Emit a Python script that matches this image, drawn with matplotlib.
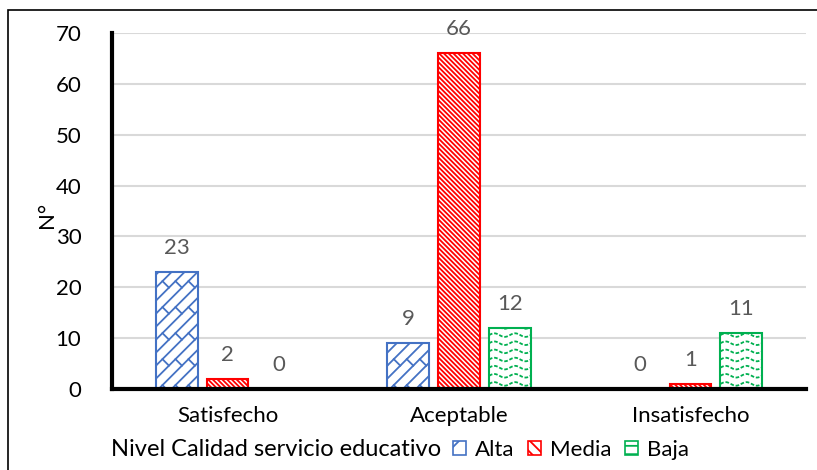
import numpy as np
import matplotlib
matplotlib.use("Agg")
import matplotlib.pyplot as plt
from matplotlib.patches import Rectangle, Patch
from matplotlib.transforms import IdentityTransform

# Data
categories = ["Satisfecho", "Aceptable", "Insatisfecho"]
series_names = ["Alta", "Media", "Baja"]
alta = [23, 9, 0]
media = [2, 66, 1]
baja = [0, 12, 11]
y_ticks = [0, 10, 20, 30, 40, 50, 60, 70]
legend_title = "Nivel Calidad servicio educativo"
y_label = "N°"

plt.rcParams["font.family"] = ["Lato", "DejaVu Sans"]
plt.rcParams["hatch.linewidth"] = 1.3

colors = ["#4472C4", "#FF0000", "#00B050"]

fig = plt.figure(figsize=(8.17, 4.70), dpi=100)
ax = fig.add_axes([112 / 817, 1 - 389 / 470, 694 / 817, 356 / 470])
ax.set_xlim(-0.5, 2.5)
ax.set_ylim(0, 70)

x = np.arange(len(categories))
width = 0.18
step = 0.22
all_series = [alta, media, baja]
hatches = [None, "\\" * 7, None]

bar_groups = []
for i, (vals, col, h) in enumerate(zip(all_series, colors, hatches)):
    bars = ax.bar(x + (i - 1) * step, vals, width, facecolor="white",
                  edgecolor=col, linewidth=1.5, hatch=h, zorder=3)
    bar_groups.append(bars)
    for b, v in zip(bars, vals):
        ax.annotate(str(v), (b.get_x() + b.get_width() / 2, v),
                    xytext=(0, 10), textcoords="offset points",
                    ha="center", va="bottom", fontsize=16, color="#595959")

# Diagonal brick fill for the "Alta" bars (drawn in pixel space, clipped to bar)
px = IdentityTransform()
for b in bar_groups[0]:
    if b.get_height() <= 0:
        continue
    (x0, y0), (x1, y1) = ax.transData.transform(
        [(b.get_x(), 0), (b.get_x() + b.get_width(), b.get_height())])
    s = 13.0
    cs = np.arange(y0 - x1 - s, y1 - x0 + s, s)
    for k, c in enumerate(cs):
        t = np.array([x0 - 20, x1 + 20])
        ln, = ax.plot(t, t + c, color=colors[0], lw=1.3, transform=px, zorder=4)
        ln.set_clip_path(b)
        off = (k % 2) * s
        for tt in np.arange(x0 - 4 * s + off, x1 + 2 * s, 2 * s):
            seg, = ax.plot([tt, tt - s / 2], [tt + c, tt + c + s / 2],
                           color=colors[0], lw=1.3, transform=px, zorder=4)
            seg.set_clip_path(b)

# Wavy fill for the "Baja" bars, clipped to each bar
for b in bar_groups[2]:
    h = b.get_height()
    if h <= 0:
        continue
    x0, w = b.get_x(), b.get_width()
    xs = np.linspace(x0, x0 + w, 60)
    period = w / 2.0
    amp = 0.35
    for yc in np.arange(1.0, h + 1.0, 1.6):
        ys = yc + amp * np.sin(2 * np.pi * (xs - x0) / period)
        ln, = ax.plot(xs, ys, color=colors[2], lw=1.3, ls=(0, (2, 1)), zorder=4)
        ln.set_clip_path(b)

ax.set_yticks(y_ticks)
ax.set_xticks(x)
ax.set_xticklabels(categories)
ax.tick_params(axis="both", length=0, labelsize=16, colors="black")
ax.tick_params(axis="y", pad=22)
ax.tick_params(axis="x", pad=12)
ax.yaxis.grid(True, color="#D9D9D9", lw=1.5, zorder=0)
ax.set_axisbelow(True)
for s_ in ["top", "right"]:
    ax.spines[s_].set_visible(False)
ax.spines["left"].set_linewidth(3)
ax.spines["bottom"].set_linewidth(3)
ax.spines["left"].set_zorder(5)
ax.spines["bottom"].set_zorder(5)

fig.text(47 / 817, 1 - 215 / 470, y_label, rotation=90, fontsize=16,
         ha="center", va="center")

# Legend row at the bottom
fig.text(111 / 817, 1 - 450 / 470, legend_title, fontsize=17,
         ha="left", va="center")
handles = [Patch(facecolor="white", edgecolor=c, hatch=h, lw=1.2)
           for c, h in zip(colors, ["/", "\\\\\\", "--"])]
fig.legend(handles, series_names, loc="center left",
           bbox_to_anchor=(453 / 817, 1 - 450 / 470), ncol=3, frameon=False,
           fontsize=16, handlelength=0.6, handleheight=0.6, handletextpad=0.4,
           columnspacing=0.6, borderpad=0, borderaxespad=0)

# Outer frame (left and top edges)
fig.patches.append(Rectangle((8 / 817, -0.1), 1.2, 1.1 - 10 / 470,
                             transform=fig.transFigure, fill=False,
                             edgecolor="black", lw=1.2))

fig.savefig("out.png", dpi=100)
